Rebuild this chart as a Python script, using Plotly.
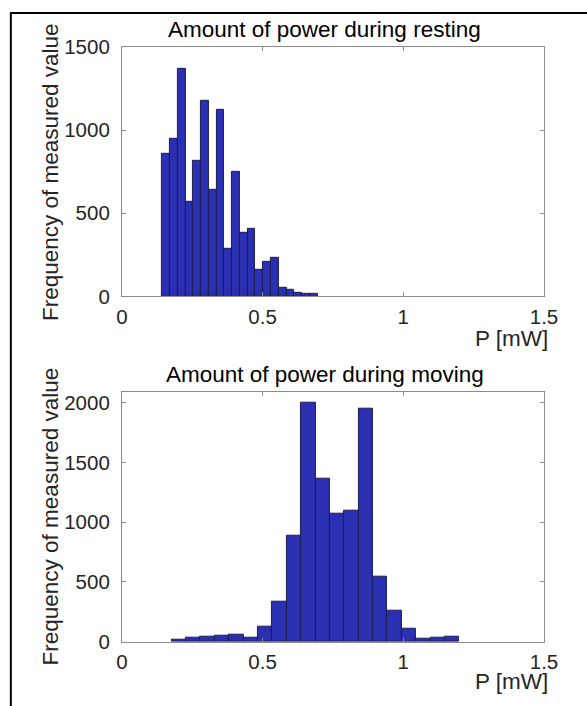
import plotly.graph_objects as go

W, H = 587, 706

# ---- data ----
rest_bin_start = 0.143
rest_bin_width = 0.0276
rest_counts = [857, 946, 1370, 568, 813, 1175, 641, 1123, 289, 749,
               382, 404, 159, 209, 233, 50, 42, 20, 14, 14]

move_bin_start = 0.1766
move_bin_width = 0.0511
move_counts = [14, 33, 39, 47, 61, 33, 122, 334, 887, 1997,
               1366, 1074, 1096, 1945, 548, 259, 111, 25, 33, 39]

x_ticks = [0, 0.5, 1, 1.5]
x_ticklabels = ["0", "0.5", "1", "1.5"]
rest_y_ticks = [0, 500, 1000, 1500]
move_y_ticks = [0, 500, 1000, 1500, 2000]

titles = ["Amount of power during resting", "Amount of power during moving"]
x_label = "P [mW]"
y_label = "Frequency of measured value"


def px(x):
    return x / W


def py(y):
    return 1 - y / H


def centers(start, width, n):
    return [start + width * (i + 0.5) for i in range(n)]


BAR = "#2b2fb2"
EDGE = "#1b1d4f"
AX = "#8c8c8c"
TXT = "#262626"
FONT = "Liberation Sans, Arial, sans-serif"

fig = go.Figure()
fig.add_trace(go.Bar(x=centers(rest_bin_start, rest_bin_width, len(rest_counts)),
                     y=rest_counts, width=rest_bin_width,
                     marker=dict(color=BAR, line=dict(color=EDGE, width=1)),
                     xaxis="x", yaxis="y", showlegend=False))
fig.add_trace(go.Bar(x=centers(move_bin_start, move_bin_width, len(move_counts)),
                     y=move_counts, width=move_bin_width,
                     marker=dict(color=BAR, line=dict(color=EDGE, width=1)),
                     xaxis="x2", yaxis="y2", showlegend=False))

xdom = [px(120), px(557)]
axis_common = dict(showline=True, linecolor=AX, linewidth=1, mirror="ticks",
                   ticks="inside", ticklen=4, tickcolor=AX, showgrid=False,
                   zeroline=False, tickfont=dict(family=FONT, size=20.5, color=TXT))
xaxis_common = dict(axis_common, ticklabelstandoff=2)
yaxis_common = dict(axis_common, ticklabelstandoff=7)

fig.update_layout(
    width=W, height=H, margin=dict(l=0, r=0, t=0, b=0),
    paper_bgcolor="white", plot_bgcolor="white", bargap=0,
    xaxis=dict(domain=xdom, range=[0, 1.5], tickvals=x_ticks, ticktext=x_ticklabels,
               anchor="y", **xaxis_common),
    yaxis=dict(domain=[py(294), py(36)], range=[0, 1500], tickvals=rest_y_ticks,
               anchor="x", **yaxis_common),
    xaxis2=dict(domain=xdom, range=[0, 1.5], tickvals=x_ticks, ticktext=x_ticklabels,
                anchor="y2", **xaxis_common),
    yaxis2=dict(domain=[py(651), py(392.5)], range=[0, 2090], tickvals=move_y_ticks,
                anchor="x2", **yaxis_common),
)

ann = []
for t, yc in zip(titles, [18, 375]):
    ann.append(dict(text=t, x=px(330), y=py(yc), xref="paper", yref="paper",
                    showarrow=False, xanchor="center", yanchor="middle",
                    font=dict(family=FONT, size=22.5, color="black")))
for yc in [337, 692]:
    ann.append(dict(text=x_label, x=px(563), y=py(yc), xref="paper", yref="paper",
                    showarrow=False, xanchor="right", yanchor="middle",
                    font=dict(family=FONT, size=22.5, color=TXT)))
for yc in [165, 521]:
    ann.append(dict(text=y_label, x=px(46), y=py(yc), xref="paper", yref="paper",
                    showarrow=False, xanchor="center", yanchor="middle", textangle=-90,
                    font=dict(family=FONT, size=22.5, color=TXT)))
fig.update_layout(annotations=ann)

# outer frame (only top and left visible in the crop)
fig.add_shape(type="rect", xref="paper", yref="paper",
              x0=px(5), x1=1.2, y0=-0.2, y1=py(1),
              line=dict(color="black", width=2), fillcolor="rgba(0,0,0,0)")

fig.write_html("out.html")
